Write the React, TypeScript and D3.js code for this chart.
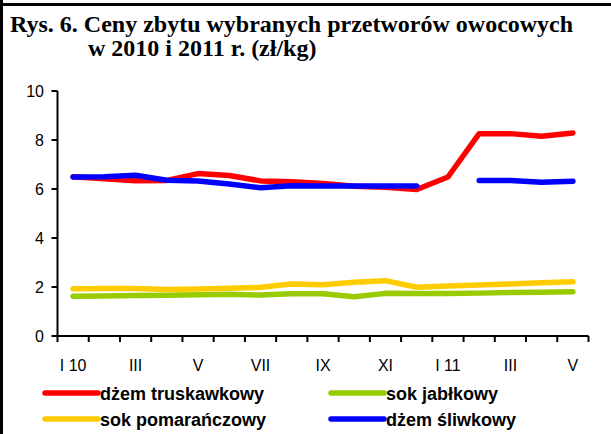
import React from 'react';
import * as d3 from 'd3';

// miesiące I 2010 - V 2011
const months = ['I', 'II', 'III', 'IV', 'V', 'VI', 'VII', 'VIII', 'IX', 'X', 'XI', 'XII', 'I', 'II', 'III', 'IV', 'V'];
const tickLabels = ['I 10', '', 'III', '', 'V', '', 'VII', '', 'IX', '', 'XI', '', 'I 11', '', 'III', '', 'V'];
const yTicks = [0, 2, 4, 6, 8, 10];

const dzemTruskawkowy = [6.5, 6.42, 6.34, 6.35, 6.63, 6.55, 6.33, 6.3, 6.22, 6.11, 6.07, 5.98, 6.49, 8.26, 8.26, 8.15, 8.29];
const sokJablkowy = [1.62, 1.63, 1.65, 1.66, 1.68, 1.7, 1.67, 1.72, 1.72, 1.6, 1.74, 1.73, 1.73, 1.75, 1.78, 1.79, 1.81];
const sokPomaranczowy = [1.93, 1.94, 1.94, 1.9, 1.92, 1.95, 1.99, 2.12, 2.09, 2.19, 2.26, 1.99, 2.04, 2.08, 2.12, 2.17, 2.21];
const dzemSliwkowy = [6.49, 6.5, 6.56, 6.36, 6.33, 6.2, 6.05, 6.13, 6.12, 6.12, 6.12, 6.12, null, 6.35, 6.35, 6.28, 6.32];

const series = [
  { name: 'dżem truskawkowy', values: dzemTruskawkowy, color: '#ff0000' },
  { name: 'sok jabłkowy', values: sokJablkowy, color: '#99cc00' },
  { name: 'sok pomarańczowy', values: sokPomaranczowy, color: '#ffcc00' },
  { name: 'dżem śliwkowy', values: dzemSliwkowy, color: '#0000ff' },
];

const W = 611;
const H = 434;
const left = 57.5;
const right = 588.5;
const top = 91;
const bottom = 336;

export default function App() {
  const idx = months.map((_, i) => i);
  const x = d3.scaleBand<number>().domain(idx).range([left, right]);
  const y = d3.scaleLinear().domain([0, 10]).range([bottom, top]);

  const line = d3.line<number | null>()
    .defined(d => d != null)
    .x((_, i) => (x(i) as number) + x.bandwidth() / 2)
    .y(d => y(d as number));

  const legendPos = [
    { lx: 45, ly: 393 },
    { lx: 331, ly: 393 },
    { lx: 45, ly: 419 },
    { lx: 331, ly: 419 },
  ];

  return (
    <svg width={W} height={H} style={{ position: 'absolute', left: 0, top: 0, background: '#fff' }}>
      {/* ramka */}
      <rect x={0} y={0} width={3} height={H} fill="#000" />
      <rect x={0} y={3} width={W} height={3} fill="#000" />

      <g fontFamily="'Liberation Serif', 'Times New Roman', serif" fontWeight="bold" fontSize={24} fill="#000">
        <text x={10} y={32}>Rys. 6. Ceny zbytu wybranych przetworów owocowych</text>
        <text x={88} y={56}>w 2010 i 2011 r. (zł/kg)</text>
      </g>

      <g fontFamily="'Liberation Sans', Arial, sans-serif" fontSize={16} fill="#000">
        {yTicks.map(t => (
          <g key={t}>
            <line x1={left - 6} x2={left} y1={y(t)} y2={y(t)} stroke="#000" strokeWidth={2} />
            <text x={44} y={y(t)} dy="0.36em" textAnchor="end">{t}</text>
          </g>
        ))}
        {d3.range(months.length + 1).map(i => {
          const tx = left + i * x.step();
          return <line key={i} x1={tx} x2={tx} y1={bottom} y2={bottom + 6} stroke="#000" strokeWidth={2} />;
        })}
        {tickLabels.map((l, i) => (
          <text key={i} x={(x(i) as number) + x.bandwidth() / 2} y={371} textAnchor="middle">{l}</text>
        ))}
      </g>

      <line x1={left} x2={left} y1={top} y2={bottom} stroke="#000" strokeWidth={2} />
      <line x1={left} x2={right} y1={bottom} y2={bottom} stroke="#000" strokeWidth={2} />

      {series.map(s => (
        <path key={s.name} d={line(s.values) || ''} fill="none" stroke={s.color} strokeWidth={5.5}
          strokeLinejoin="round" strokeLinecap="round" />
      ))}

      <g fontFamily="'Liberation Sans', Arial, sans-serif" fontWeight="bold" fontSize={18} fill="#000">
        {series.map((s, i) => (
          <g key={s.name}>
            <line x1={legendPos[i].lx} x2={legendPos[i].lx + 53} y1={legendPos[i].ly} y2={legendPos[i].ly}
              stroke={s.color} strokeWidth={5.5} strokeLinecap="round" />
            <text x={legendPos[i].lx + 55} y={legendPos[i].ly + 7}>{s.name}</text>
          </g>
        ))}
      </g>
    </svg>
  );
}
